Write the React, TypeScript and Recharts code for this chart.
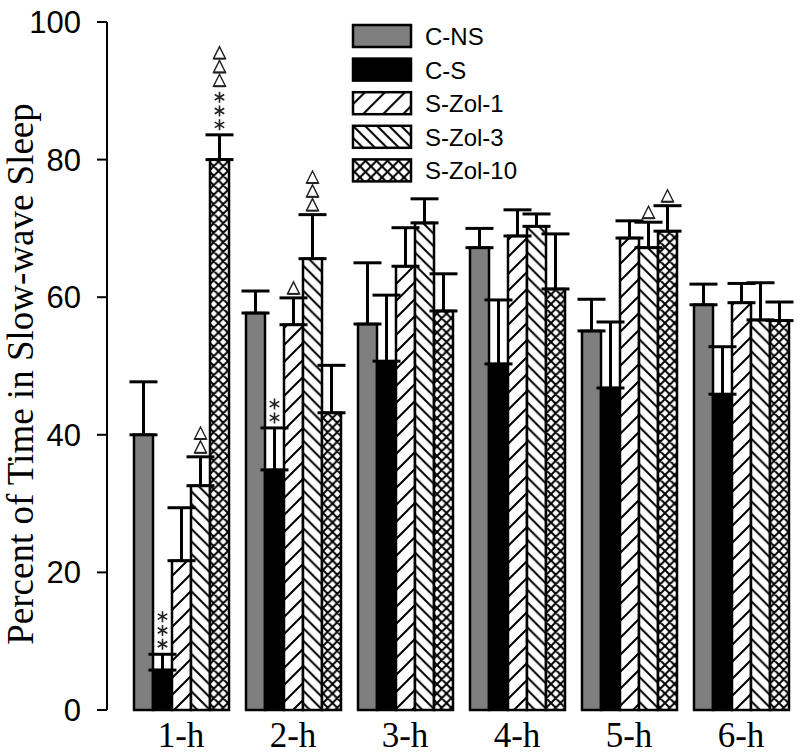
import { BarChart, Bar, XAxis, YAxis, ErrorBar, LabelList, Legend } from "recharts";

const categories = ["1-h", "2-h", "3-h", "4-h", "5-h", "6-h"];

const cNS = [40.0, 57.7, 56.1, 67.2, 55.1, 58.9];
const cNSErr = [7.7, 3.2, 8.9, 2.8, 4.6, 3.0];
const cS = [5.8, 34.9, 50.7, 50.3, 46.8, 45.9];
const cSErr = [2.3, 6.1, 9.6, 9.3, 9.6, 6.9];
const zol1 = [21.7, 56.0, 64.5, 68.9, 68.6, 59.2];
const zol1Err = [7.7, 3.9, 5.6, 3.8, 2.5, 2.8];
const zol3 = [32.6, 65.6, 70.8, 70.3, 67.2, 56.7];
const zol3Err = [4.2, 6.4, 3.5, 1.8, 3.7, 5.4];
const zol10 = [80.0, 43.2, 58.0, 61.2, 69.6, 56.6];
const zol10Err = [3.6, 6.9, 5.4, 8.0, 3.7, 2.7];

// significance marks, listed from the error cap upward
const cNSMarks = ["", "", "", "", "", ""];
const cSMarks = ["***", "**", "", "", "", ""];
const zol1Marks = ["", "Δ", "", "", "", ""];
const zol3Marks = ["ΔΔ", "ΔΔΔ", "", "", "Δ", ""];
const zol10Marks = ["***ΔΔΔ", "", "", "", "Δ", ""];

const yTicks = [0, 20, 40, 60, 80, 100];

const series = [
  { key: "cNS", name: "C-NS", values: cNS, err: cNSErr, marks: cNSMarks, fill: "#7f7f7f", legendFill: "#7f7f7f" },
  { key: "cS", name: "C-S", values: cS, err: cSErr, marks: cSMarks, fill: "#000000", legendFill: "#000000" },
  { key: "zol1", name: "S-Zol-1", values: zol1, err: zol1Err, marks: zol1Marks, fill: "url(#hatchFwd)", legendFill: "url(#lgFwd)" },
  { key: "zol3", name: "S-Zol-3", values: zol3, err: zol3Err, marks: zol3Marks, fill: "url(#hatchBack)", legendFill: "url(#lgBack)" },
  { key: "zol10", name: "S-Zol-10", values: zol10, err: zol10Err, marks: zol10Marks, fill: "url(#hatchCross)", legendFill: "url(#lgCross)" },
];

const data = categories.map((name, i) => {
  const row: Record<string, unknown> = { name };
  series.forEach((s) => {
    row[s.key] = s.values[i];
    row[s.key + "Err"] = [0, s.err[i]];
  });
  return row;
});

const sansFont = "'Liberation Sans', Arial, sans-serif";
const serifFont = "'Liberation Serif', 'Times New Roman', serif";

function Star({ cx, cy }: { cx: number; cy: number }) {
  const r = 5.5;
  const d = [90, 30, -30]
    .map((a) => {
      const rad = (a * Math.PI) / 180;
      const dx = r * Math.cos(rad);
      const dy = r * Math.sin(rad);
      return `M${cx - dx},${cy - dy} L${cx + dx},${cy + dy}`;
    })
    .join(" ");
  return <path d={d} stroke="#222" strokeWidth={1.6} fill="none" />;
}

function Delta({ cx, cy }: { cx: number; cy: number }) {
  const h = 6;
  return (
    <g>
      <polygon
        points={`${cx - h},${cy + h} ${cx + h},${cy + h} ${cx},${cy - h}`}
        fill="none"
        stroke="#222"
        strokeWidth={1.4}
        strokeLinejoin="miter"
      />
      <line x1={cx - h} x2={cx + h} y1={cy + h} y2={cy + h} stroke="#222" strokeWidth={2} />
    </g>
  );
}

const makeMarks = (marks: string[], err: number[]) => (props: any) => {
  const vb = props.viewBox ?? props;
  const x = vb.x ?? props.x;
  const y = vb.y ?? props.y;
  const w = vb.width ?? props.width;
  const h = vb.height ?? props.height;
  const idx = props.index;
  const value = Number(props.value);
  const m = marks[idx];
  if (!m || !value) return null;
  const capY = y - err[idx] * (Math.abs(h) / value);
  const cx = x + w / 2;
  let cy = capY - 10;
  const out: JSX.Element[] = [];
  let prev = "";
  Array.from(m).forEach((ch, i) => {
    if (i > 0) cy -= prev !== ch ? 17 : 13.8;
    out.push(ch === "*" ? <Star key={i} cx={cx} cy={cy} /> : <Delta key={i} cx={cx} cy={cy} />);
    prev = ch;
  });
  return <g>{out}</g>;
};

function LegendBox() {
  return (
    <svg width={200} height={170}>
      <defs>
        <pattern id="lgFwd" patternUnits="userSpaceOnUse" width={20} height={20}>
          <path d="M0,20 L20,0 M-5,5 L5,-5 M15,25 L25,15" stroke="#000" strokeWidth={2} />
        </pattern>
        <pattern id="lgBack" patternUnits="userSpaceOnUse" width={12} height={12}>
          <path d="M0,0 L12,12 M-3,9 L3,15 M9,-3 L15,3" stroke="#000" strokeWidth={2} />
        </pattern>
        <pattern id="lgCross" patternUnits="userSpaceOnUse" width={11} height={11}>
          <path d="M0,0 L11,11 M-3,8 L3,14 M8,-3 L14,3 M0,11 L11,0 M-3,3 L3,-3 M8,14 L14,8" stroke="#000" strokeWidth={2} />
        </pattern>
      </defs>
      {series.map((s, i) => (
        <g key={s.key} transform={`translate(0, ${i * 33.6})`}>
          <rect x={4} y={4} width={58} height={22} fill="#fff" />
          <rect x={4} y={4} width={58} height={22} fill={s.legendFill} stroke="#000" strokeWidth={2.5} />
          <text x={76} y={24} fontFamily={sansFont} fontSize={24} fill="#000">
            {s.name}
          </text>
        </g>
      ))}
    </svg>
  );
}

function YTitle(props: any) {
  const vb = props.viewBox ?? {};
  const cy = vb.y != null && vb.height != null ? vb.y + vb.height / 2 + 8 : 374;
  return (
    <text
      transform={`translate(33, ${cy}) rotate(-90)`}
      textAnchor="middle"
      fontFamily={serifFont}
      fontSize={37}
      fill="#000"
    >
      Percent of Time in Slow-wave Sleep
    </text>
  );
}

export default function App() {
  return (
    <div style={{ position: "absolute", left: 0, top: 0, background: "#fff" }}>
      <BarChart
        width={800}
        height={754}
        data={data}
        margin={{ top: 22, right: 3, bottom: 0, left: 0 }}
        barGap={0}
        barSize={19}
      >
        <defs>
          <pattern id="hatchFwd" patternUnits="userSpaceOnUse" width={17} height={17}>
            <rect width={17} height={17} fill="#fff" />
            <path d="M0,17 L17,0 M-4,4 L4,-4 M13,21 L21,13" stroke="#000" strokeWidth={2} />
          </pattern>
          <pattern id="hatchBack" patternUnits="userSpaceOnUse" width={12.5} height={12.5}>
            <rect width={12.5} height={12.5} fill="#fff" />
            <path d="M0,0 L12.5,12.5 M-3,9.5 L3,15.5 M9.5,-3 L15.5,3" stroke="#000" strokeWidth={2} />
          </pattern>
          <pattern id="hatchCross" patternUnits="userSpaceOnUse" width={9.5} height={9.5}>
            <rect width={9.5} height={9.5} fill="#fff" />
            <path
              d="M0,0 L9.5,9.5 M-3,6.5 L3,12.5 M6.5,-3 L12.5,3 M0,9.5 L9.5,0 M-3,3 L3,-3 M6.5,12.5 L12.5,6.5"
              stroke="#000"
              strokeWidth={2}
            />
          </pattern>
        </defs>
        <XAxis
          dataKey="name"
          axisLine={false}
          tickLine={false}
          tickSize={0}
          tickMargin={12}
          height={44}
          padding={{ left: 18, right: 0 }}
          tick={{ fontSize: 35, fill: "#000", fontFamily: serifFont }}
        />
        <YAxis
          domain={[0, 100]}
          ticks={yTicks}
          width={107}
          axisLine={{ stroke: "#000", strokeWidth: 2 }}
          tickLine={{ stroke: "#000", strokeWidth: 2 }}
          tickSize={10}
          tickMargin={16}
          tick={{ fontSize: 31, fill: "#000", fontFamily: sansFont }}
          label={{ content: (p: any) => <YTitle {...p} /> }}
        />
        <Legend
          layout="vertical"
          align="center"
          verticalAlign="middle"
          wrapperStyle={{ left: 349, top: 21, width: 200, height: 170 }}
          content={() => <LegendBox />}
        />
        {series.map((s) => (
          <Bar
            key={s.key}
            dataKey={s.key}
            name={s.name}
            fill={s.fill}
            stroke="#000"
            strokeWidth={2.5}
            isAnimationActive={false}
          >
            <ErrorBar dataKey={s.key + "Err"} width={14} stroke="#000" strokeWidth={3} direction="y" />
            <LabelList dataKey={s.key} content={makeMarks(s.marks, s.err)} />
          </Bar>
        ))}
      </BarChart>
    </div>
  );
}
